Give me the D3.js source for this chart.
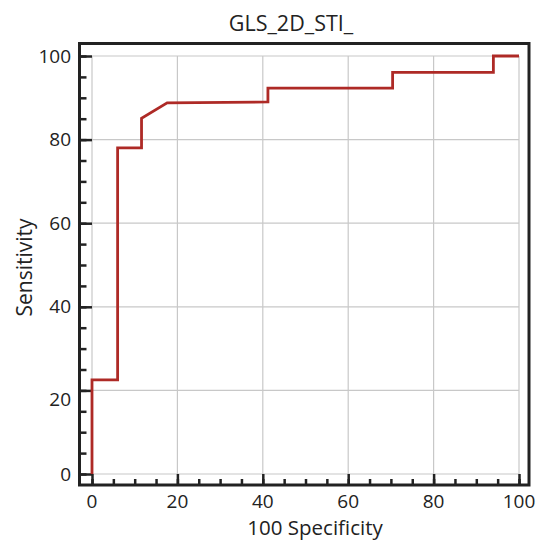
<!DOCTYPE html>
<html><head><meta charset="utf-8">
<script src="https://cdn.jsdelivr.net/npm/d3@7"></script>
<style>body{margin:0;background:#fff}svg{display:block}text{font-family:"Open Sans",sans-serif;fill:#222}</style>
</head><body><svg id="c" width="536" height="542"></svg>
<script>
const title = "GLS_2D_STI_";
const xLabel = "100 Specificity";
const yLabel = "Sensitivity";
const specificity = [0, 0, 6.0, 6.0, 11.6, 11.6, 17.6, 41.2, 41.2, 70.4, 70.4, 94.0, 94.0, 100];
const sensitivity = [0, 22.5, 22.5, 78.0, 78.0, 85.1, 88.8, 89.0, 92.3, 92.3, 96.1, 96.1, 100, 100];
const majorTicks = [0, 20, 40, 60, 80, 100];
const minorTicks = d3.range(0, 101, 5);

const svg = d3.select("#c");
const x = d3.scaleLinear().domain([0, 100]).range([92, 519]);
const y = d3.scaleLinear().domain([0, 100]).range([474, 56]);
const frame = {l: 79.5, r: 529, t: 43.5, b: 485};

// grid
svg.append("g").selectAll("line").data(majorTicks).join("line")
  .attr("x1", d => x(d)).attr("x2", d => x(d)).attr("y1", y(0)).attr("y2", y(100))
  .attr("stroke", "#c8c8c8").attr("stroke-width", 1.2);
svg.append("g").selectAll("line").data(majorTicks).join("line")
  .attr("y1", d => y(d)).attr("y2", d => y(d)).attr("x1", x(0)).attr("x2", x(100))
  .attr("stroke", "#c8c8c8").attr("stroke-width", 1.2);

// axes ticks via d3 axes
const yAxis = svg.append("g").attr("transform", `translate(${frame.l},0)`)
  .call(d3.axisRight(y).tickValues(minorTicks).tickSize(7).tickFormat(""));
const yAxisMaj = svg.append("g").attr("transform", `translate(${frame.l},0)`)
  .call(d3.axisRight(y).tickValues(majorTicks).tickSize(x(0) - frame.l).tickFormat(""));
const xAxis = svg.append("g").attr("transform", `translate(0,${frame.b})`)
  .call(d3.axisTop(x).tickValues(minorTicks).tickSize(6).tickFormat(""));
const xAxisMaj = svg.append("g").attr("transform", `translate(0,${frame.b})`)
  .call(d3.axisTop(x).tickValues(majorTicks).tickSize(frame.b - y(0)).tickFormat(""));
[yAxis, yAxisMaj, xAxis, xAxisMaj].forEach(g => {
  g.select(".domain").remove();
  g.selectAll(".tick line").attr("stroke", "#222").attr("stroke-width", 2.5);
});

// tick labels
svg.append("g").selectAll("text").data(majorTicks).join("text")
  .attr("x", 71).attr("y", d => y(d) + (d === 20 ? 9 : 0)).attr("dy", "0.35em").attr("text-anchor", "end")
  .attr("font-size", 19).text(d => d);
svg.append("g").selectAll("text").data(majorTicks).join("text")
  .attr("x", d => x(d)).attr("y", 508).attr("text-anchor", "middle")
  .attr("font-size", 19).text(d => d);

// frame
svg.append("rect").attr("x", frame.l).attr("y", frame.t)
  .attr("width", frame.r - frame.l).attr("height", frame.b - frame.t)
  .attr("fill", "none").attr("stroke", "#222").attr("stroke-width", 3);

// ROC line
const pts = specificity.map((s, i) => [s, sensitivity[i]]);
svg.append("path").datum(pts)
  .attr("d", d3.line().x(d => x(d[0])).y(d => y(d[1])))
  .attr("fill", "none").attr("stroke", "#ae2a26").attr("stroke-width", 2.8)
  .attr("stroke-linejoin", "miter");

// titles
svg.append("text").attr("x", 291).attr("y", 30.5).attr("text-anchor", "middle")
  .attr("font-size", 21.5).text(title);
svg.append("text").attr("x", 315).attr("y", 535).attr("text-anchor", "middle")
  .attr("font-size", 20.5).text(xLabel);
svg.append("text").attr("transform", "translate(32,267.5) rotate(-90)")
  .attr("text-anchor", "middle").attr("font-size", 21).text(yLabel);
</script></body></html>
